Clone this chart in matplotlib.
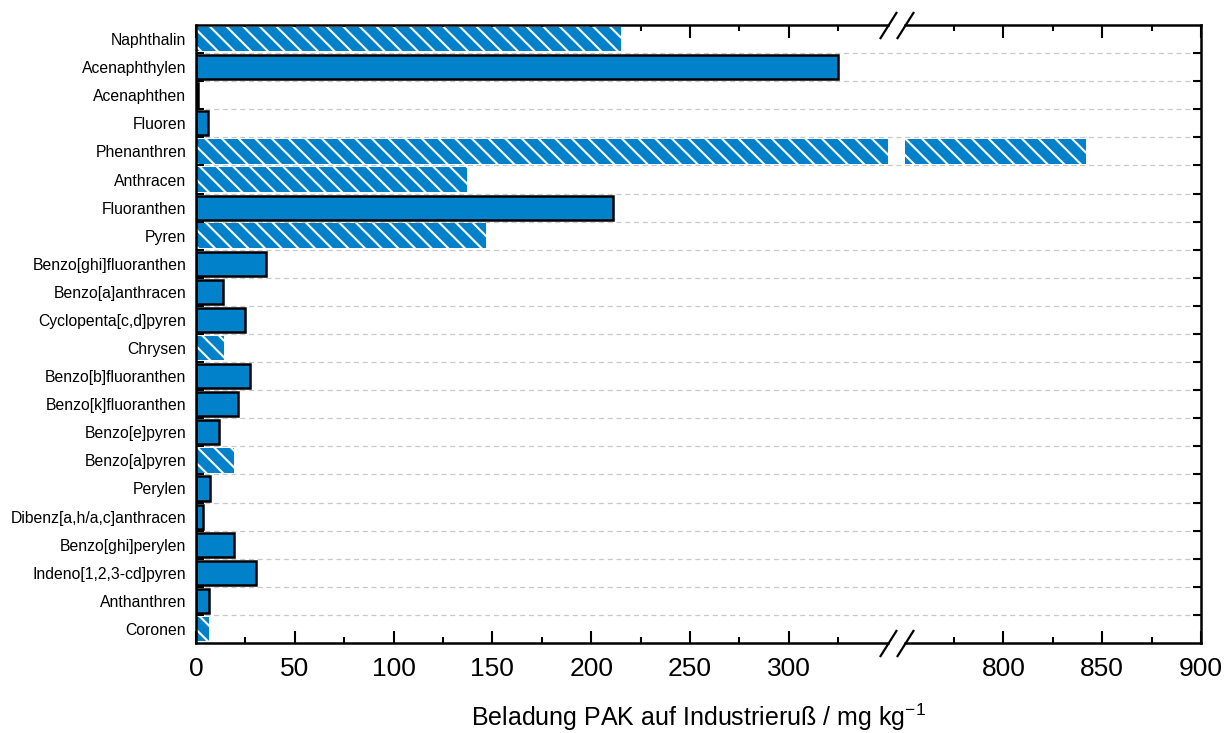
import numpy as np
import matplotlib
matplotlib.use("Agg")
import matplotlib.pyplot as plt
from matplotlib.scale import FuncScale
from matplotlib.ticker import FixedLocator, NullFormatter

plt.rcParams["font.family"] = ["Liberation Sans", "DejaVu Sans"]
plt.rcParams["mathtext.default"] = "regular"
plt.rcParams["hatch.linewidth"] = 1.5

# PAH loading on industrial soot (mg/kg)
compounds = [
    "Naphthalin", "Acenaphthylen", "Acenaphthen", "Fluoren", "Phenanthren",
    "Anthracen", "Fluoranthen", "Pyren", "Benzo[ghi]fluoranthen",
    "Benzo[a]anthracen", "Cyclopenta[c,d]pyren", "Chrysen",
    "Benzo[b]fluoranthen", "Benzo[k]fluoranthen", "Benzo[e]pyren",
    "Benzo[a]pyren", "Perylen", "Dibenz[a,h/a,c]anthracen",
    "Benzo[ghi]perylen", "Indeno[1,2,3-cd]pyren", "Anthanthren", "Coronen",
]
loading = [
    215, 325, 0.8, 6.0, 842,
    137, 211, 147, 35.3,
    13.5, 25.0, 14.0,
    27.3, 21.3, 11.5,
    19.0, 7.3, 3.7,
    19.0, 30.2, 6.5, 6.7,
]
# compounds drawn with hatched bars
hatched = [
    True, False, False, False, True,
    True, False, True, False,
    False, False, True,
    False, False, False,
    True, False, False,
    False, False, False, True,
]

major_ticks = [0, 50, 100, 150, 200, 250, 300, 800, 850, 900]
minor_ticks = [25, 75, 125, 175, 225, 275, 325, 775, 825, 875]

BREAK_LO, BREAK_HI = 350, 750
GAP = 0.0215          # compression of the skipped range
X_MAX = 900
BLUE = "#0081C9"


def fwd(v):
    v = np.asarray(v, float)
    return np.where(v <= BREAK_LO, v,
                    np.where(v >= BREAK_HI,
                             v - (BREAK_HI - BREAK_LO) * (1 - GAP),
                             BREAK_LO + (v - BREAK_LO) * GAP))


def inv(u):
    u = np.asarray(u, float)
    hi0 = BREAK_LO + (BREAK_HI - BREAK_LO) * GAP
    return np.where(u <= BREAK_LO, u,
                    np.where(u >= hi0,
                             u + (BREAK_HI - BREAK_LO) * (1 - GAP),
                             BREAK_LO + (u - BREAK_LO) / GAP))


fig = plt.figure(figsize=(12.30, 7.33), dpi=100)
ax = fig.add_axes([196 / 1230, 1 - 643 / 733, (1201 - 196) / 1230, (643 - 25) / 733])
ax.set_xscale(FuncScale(ax.xaxis, (fwd, inv)))

ypos = np.arange(len(compounds))
for y, v, h in zip(ypos, loading, hatched):
    segs = [(0, v)] if v <= BREAK_LO else [(0, BREAK_LO), (BREAK_HI, v)]
    for a, b in segs:
        if h:
            ax.barh(y, b - a, left=a, height=0.88, facecolor=BLUE,
                    edgecolor="white", hatch="\\\\", linewidth=0, zorder=2)
        else:
            ax.barh(y, b - a, left=a, height=0.86, facecolor=BLUE,
                    edgecolor="black", linewidth=1.8, zorder=2)

ax.set_xlim(0, X_MAX)
ax.set_ylim(len(compounds) - 0.5, -0.5)

ax.xaxis.set_major_locator(FixedLocator(major_ticks))
ax.xaxis.set_minor_locator(FixedLocator(minor_ticks))
ax.xaxis.set_minor_formatter(NullFormatter())
ax.set_xticklabels([str(t) for t in major_ticks])
ax.tick_params(axis="x", which="both", direction="in", top=True, bottom=True,
               width=1.5, labelsize=19, pad=10)
ax.tick_params(axis="x", which="major", length=9)
ax.tick_params(axis="x", which="minor", length=4.5)

ax.set_yticks(ypos)
ax.set_yticklabels(compounds)
ax.yaxis.set_minor_locator(FixedLocator(ypos[:-1] + 0.5))
ax.tick_params(axis="y", which="major", length=0, labelsize=11.3, pad=7)
ax.tick_params(axis="y", which="minor", direction="in", left=True, right=True,
               length=5.5, width=1.5)

ax.grid(axis="y", which="minor", color="#c8c8c8", linewidth=0.9,
        linestyle=(0, (4, 3)))
ax.set_axisbelow(True)

for side in ("left", "right"):
    ax.spines[side].set_linewidth(1.8)
for side in ("top", "bottom"):
    ax.spines[side].set_visible(False)

# broken horizontal axis lines with break marks
tr = ax.get_xaxis_transform()
for yy in (0, 1):
    ax.plot([0, BREAK_LO], [yy, yy], transform=tr, color="black", lw=1.8,
            clip_on=False, solid_capstyle="projecting", zorder=5)
    ax.plot([BREAK_HI, X_MAX], [yy, yy], transform=tr, color="black", lw=1.8,
            clip_on=False, solid_capstyle="projecting", zorder=5)
    ax.plot([BREAK_LO, BREAK_HI], [yy, yy], transform=tr, linestyle="none",
            marker=[(-0.63, -1), (0.63, 1)], markersize=19.5,
            markeredgewidth=1.6, color="black", clip_on=False, zorder=6)

ax.set_xlabel("Beladung PAK auf Industrieruß / mg kg$^{-1}$", fontsize=18)
ax.xaxis.label.set_verticalalignment("baseline")
ax.xaxis.set_label_coords(0.5, -(726 - 643) / 618)

fig.savefig("out.png", dpi=100)
